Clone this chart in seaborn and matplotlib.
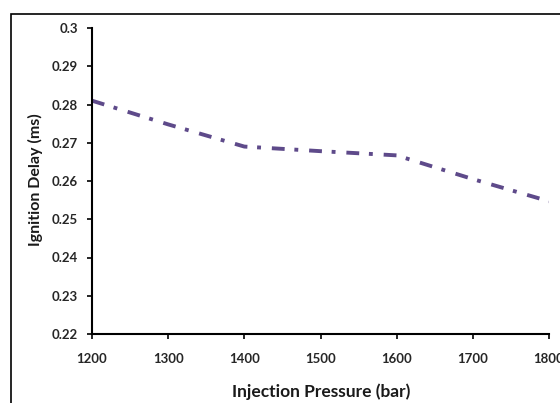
import matplotlib
matplotlib.use("Agg")
import matplotlib.pyplot as plt
import seaborn as sns
import pandas as pd
from matplotlib.patches import Rectangle

pressure = [1200, 1300, 1400, 1500, 1600, 1700, 1800]
delay = [0.281, 0.2748, 0.2690, 0.2678, 0.2667, 0.2605, 0.2547]
x_ticks = [1200, 1300, 1400, 1500, 1600, 1700, 1800]
y_ticks = [0.22, 0.23, 0.24, 0.25, 0.26, 0.27, 0.28, 0.29, 0.3]
y_ticklabels = ["0.22", "0.23", "0.24", "0.25", "0.26", "0.27", "0.28", "0.29", "0.3"]

sns.set_style("white")
plt.rcParams['font.family'] = ['Lato', 'DejaVu Sans']

df = pd.DataFrame({"Injection Pressure (bar)": pressure, "Ignition Delay (ms)": delay})

fig = plt.figure(figsize=(5.6, 4.03), dpi=100)
ax = fig.add_axes([92/560, 1 - 334/403, (549-92)/560, (334-28)/403])

sns.lineplot(data=df, x="Injection Pressure (bar)", y="Ignition Delay (ms)", ax=ax,
             color="#5E4A8A", linewidth=2.8, linestyle=(0, (3.3, 2.5, 1.0, 2.8)))

ax.set_xlim(1200, 1800)
ax.set_ylim(0.22, 0.3)
ax.set_xticks(x_ticks)
ax.set_xticklabels([str(v) for v in x_ticks])
ax.set_yticks(y_ticks)
ax.set_yticklabels(y_ticklabels)

for s in ["top", "right"]:
    ax.spines[s].set_visible(False)
for s in ["left", "bottom"]:
    ax.spines[s].set_color("black")
    ax.spines[s].set_linewidth(1.5)

ax.tick_params(axis="both", direction="out", length=3.5, width=1.2, color="black",
               labelsize=9.5, left=True, bottom=True)
ax.tick_params(axis="x", pad=10.5)
ax.tick_params(axis="y", pad=6.5)
for lab in ax.get_xticklabels() + ax.get_yticklabels():
    lab.set_fontweight("bold")
    lab.set_color("#262626")
for lab in ax.get_xticklabels():
    lab.set_clip_on(False)

ax.set_xlabel("")
ax.set_ylabel("")
fig.text(35/560, 1 - 180/403, "Ignition Delay (ms)", rotation=90, ha="center", va="center",
         fontsize=11.5, fontweight="bold", color="#1a1a1a")
fig.text(321/560, 1 - 392/403, "Injection Pressure (bar)", ha="center", va="center",
         fontsize=12.5, fontweight="bold", color="#1a1a1a")

fig.add_artist(Rectangle((11/560, -0.1), 2, (403-14)/403 + 0.1, fill=False,
                         edgecolor="black", linewidth=1.2, transform=fig.transFigure,
                         clip_on=False))

fig.savefig("out.png", dpi=100)
